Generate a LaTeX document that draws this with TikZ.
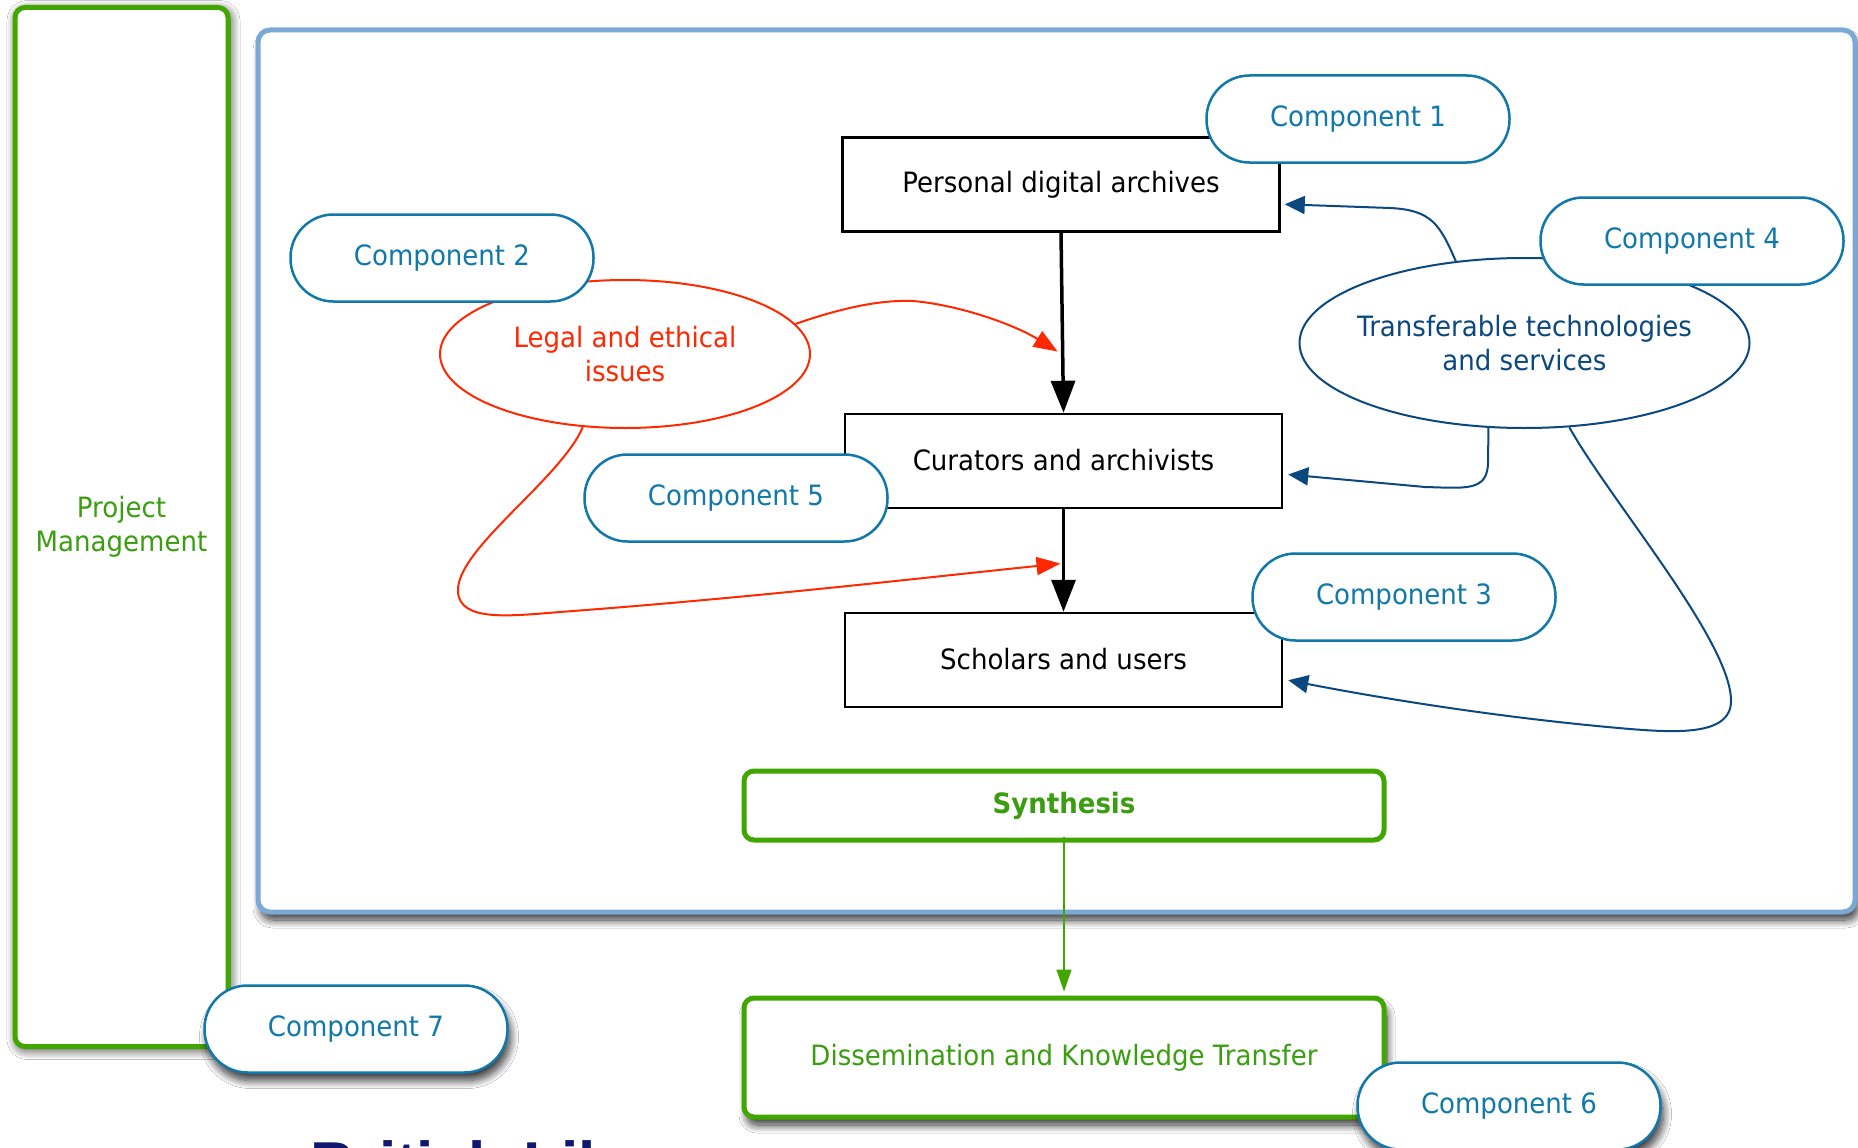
\documentclass[tikz,border=0pt]{standalone}
\usepackage{fontspec}
\setmainfont{DejaVu Sans}[FakeStretch=0.93]
\newfontfamily\titlefont{Liberation Sans}
\usetikzlibrary{arrows.meta,shapes.geometric,shadows.blur,calc}

\definecolor{pmgreen}{RGB}{66,166,0}
\definecolor{txtgreen}{RGB}{58,158,16}
\definecolor{panelblue}{RGB}{122,169,214}
\definecolor{pillblue}{RGB}{16,120,170}
\definecolor{deepblue}{RGB}{12,72,128}
\definecolor{issuered}{RGB}{255,40,0}
\definecolor{navy}{RGB}{16,24,110}

\tikzset{
  basefont/.style={font=\fontsize{28}{34}\selectfont},
  softshadow/.style={blur shadow={shadow xshift=3pt, shadow yshift=-8pt,
      shadow blur radius=8pt, shadow blur steps=12, shadow opacity=80}},
  sideshadow/.style={blur shadow={shadow xshift=2pt, shadow yshift=-3pt,
      shadow blur radius=10pt, shadow blur steps=12, shadow opacity=80}},
  pill/.style={basefont, draw=pillblue, line width=2.5pt, fill=white,
      rounded corners=43pt, minimum width=303pt, minimum height=87pt,
      text=pillblue, inner sep=0pt},
  stagebox/.style={basefont, draw=black, line width=2.5pt, fill=white,
      minimum width=437pt, minimum height=94pt, inner sep=0pt},
  theme/.style={basefont, ellipse, line width=2pt, fill=white,
      inner ysep=0pt, inner xsep=-20pt, align=center},
  greenbox/.style={basefont, draw=pmgreen, line width=5pt, fill=white,
      rounded corners=10pt, text=txtgreen, inner sep=0pt, align=center},
  flow/.style={draw=black, line width=3.5pt, -{Triangle[length=32pt,width=24pt]}},
  issue/.style={draw=issuered, line width=2pt, -{Triangle[length=24pt,width=18pt]}},
  tech/.style={draw=deepblue, line width=2pt, -{Triangle[length=20pt,width=18pt]}},
  handover/.style={draw=pmgreen, line width=1.6pt, -{Triangle[length=22pt,width=15pt]}},
}

\begin{document}
\begin{tikzpicture}[x=1pt,y=-1pt]
\useasboundingbox (0,0) rectangle (1858,1148);
\fill[white] (0,0) rectangle (1858,1148);

% project management column
\node[greenbox, sideshadow, minimum width=213pt, minimum height=1039pt] (pm)
  at (121.5,527) {Project\\Management};

% main work panel
\node[draw=panelblue, line width=5pt, fill=white, rounded corners=12pt,
  minimum width=1597pt, minimum height=882pt, inner sep=0pt, softshadow] (panel)
  at (1056.5,471) {};

% archive stages
\node[stagebox] (pda) at (1061,184.5) {Personal digital archives};
\node[stagebox] (cur) at (1063.5,461) {\raisebox{3pt}{Curators and archivists}};
\node[stagebox] (sch) at (1063.5,660) {\raisebox{2pt}{Scholars and users}};

% cross-cutting themes
\node[theme, draw=issuered, text=issuered, minimum width=370pt, minimum height=148pt]
  (legal) at (625,354) {Legal and ethical\\issues};
\node[theme, draw=deepblue, text=deepblue, minimum width=450pt, minimum height=170pt]
  (trans) at (1524.5,343) {Transferable technologies\\and services};

% main flow
\draw[flow] (pda.south) -- (cur.north);
\draw[flow] (cur.south) -- (sch.north);

% targets of the theme connectors
\coordinate (r1) at ($(pda.south)!0.66!(cur.north)+(-5,0)$);
\coordinate (r2) at ($(cur.south)!0.53!(sch.north)+(-3,0)$);
\coordinate (tA) at ($(pda.north east)!0.705!(pda.south east)+(4,0)$);
\coordinate (tB) at ($(cur.north east)!0.64!(cur.south east)+(5,0)$);
\coordinate (tC) at ($(sch.north east)!0.71!(sch.south east)+(5,0)$);

% legal and ethical issues
\draw[issue] (legal.10) .. controls (850,305) and (885,300) .. (913,301)
  .. controls (960,305) and (1015,325) .. (r1);
\draw[issue] (legal.240) .. controls (560,480) and (455,550) .. (458,592)
  .. controls (460,622) and (510,616) .. (560,612)
  .. controls (760,597) and (920,578) .. (r2);

% transferable technologies
\draw[tech] (trans.130) .. controls (1440,225) and (1432,210) .. (1390,208) -- (tA);
\draw[tech] (trans.247) -- (1488,462) .. controls (1488,492) and (1465,488) .. (1425,487) -- (tB);
\draw[tech] (trans.298) .. controls (1610,500) and (1730,640) .. (1731,700)
  .. controls (1732,735) and (1680,733) .. (1630,729)
  .. controls (1500,718) and (1380,698) .. (tC);

% synthesis and dissemination
\node[greenbox, minimum width=640pt, minimum height=69pt,
  font=\fontsize{28}{34}\selectfont\bfseries] (syn) at (1064,805.5) {Synthesis};
\node[greenbox, softshadow, minimum width=640pt, minimum height=119pt]
  (dis) at (1064,1057.5) {Dissemination and Knowledge Transfer};
\draw[handover, shorten >=4pt] ([yshift=6pt]syn.south) -- (dis.north);

% components
\node[pill] (c1) at (1358,119) {Component 1};
\node[pill] (c2) at (442,258) {Component 2};
\node[pill] (c3) at (1404,597) {Component 3};
\node[pill] (c4) at (1692,241) {Component 4};
\node[pill] (c5) at (736,498) {Component 5};
\node[pill, softshadow] (c6) at (1509,1106) {Component 6};
\node[pill, softshadow] (c7) at (356,1029) {Component 7};

% library name along the lower edge
\node[anchor=base west, inner sep=0pt, text=navy,
  font=\titlefont\bfseries\fontsize{62}{66}\selectfont] (bl) at (310,1185) {British Library};
\end{tikzpicture}
\end{document}
